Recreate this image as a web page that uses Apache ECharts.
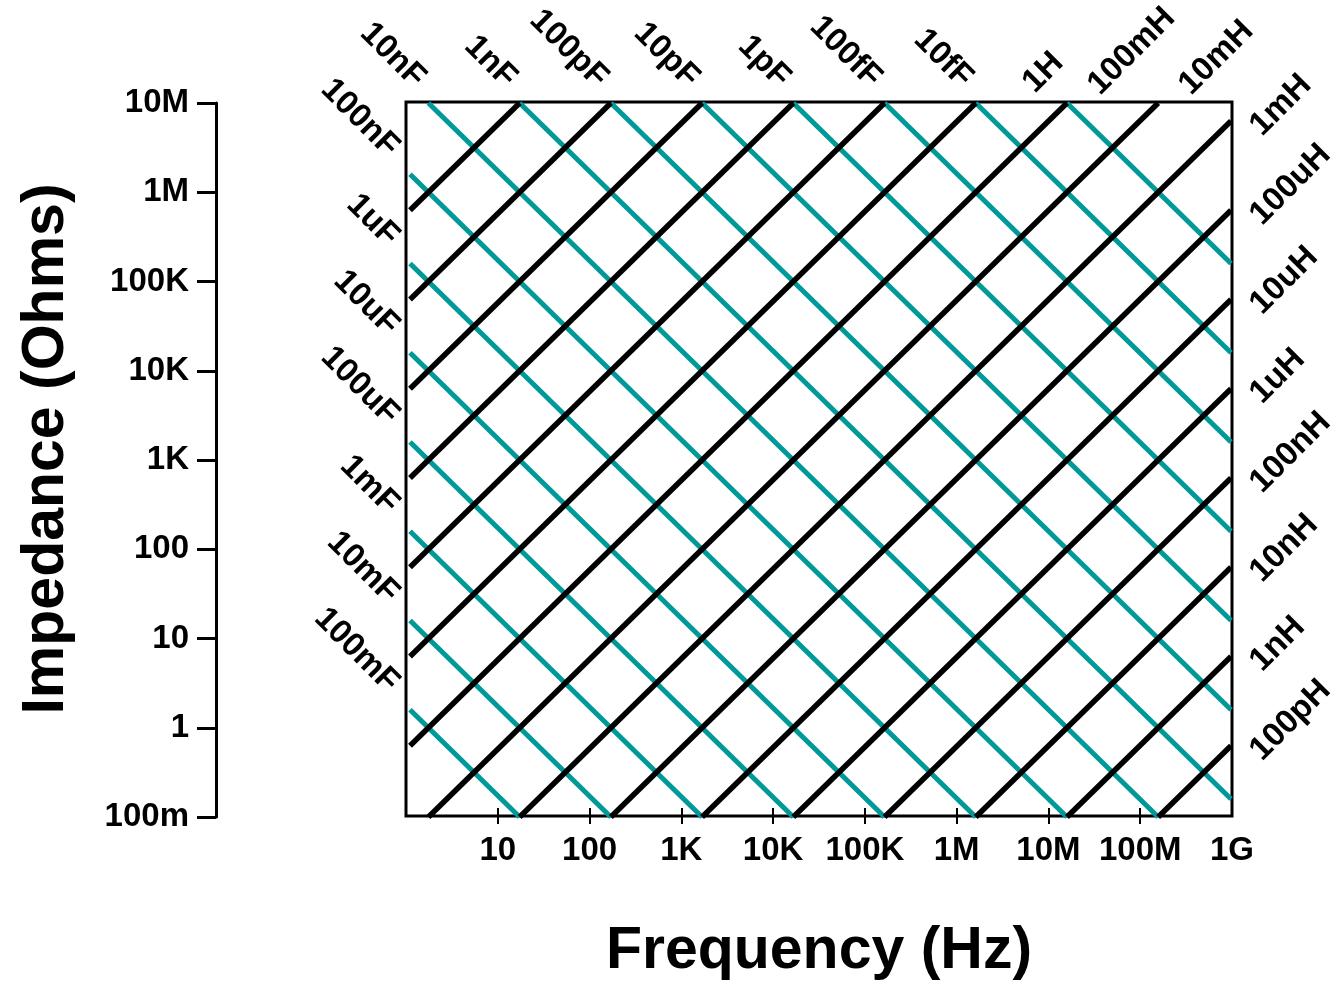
<!DOCTYPE html>
<html>
<head>
<meta charset="utf-8">
<title>Impedance vs frequency</title>
<script src="https://cdn.jsdelivr.net/npm/echarts@6/dist/echarts.min.js"></script>
<style>
  html, body { margin: 0; padding: 0; background: #fff; }
  #chart { width: 1336px; height: 986px; }
</style>
</head>
<body>
<div id="chart"></div>
<script>
  // component values (henry / farad) and the text printed beside each line ('' = unlabelled)
  var inductances = [1e-10, 1e-9, 1e-8, 1e-7, 1e-6, 1e-5, 1e-4, 1e-3, 1e-2, 1e-1, 1, 10, 100, 1e3, 1e4, 1e5]
  var inductanceLabels = ['100pH', '1nH', '10nH', '100nH', '1uH', '10uH', '100uH', '1mH', '10mH', '100mH', '1H', '', '', '', '', '']
  var capacitances = [1e-15, 1e-14, 1e-13, 1e-12, 1e-11, 1e-10, 1e-9, 1e-8, 1e-7, 1e-6, 1e-5, 1e-4, 1e-3, 1e-2, 1e-1]
  var capacitanceLabels = ['', '10fF', '100fF', '1pF', '10pF', '100pF', '1nF', '10nF', '100nF', '1uF', '10uF', '100uF', '1mF', '10mF', '100mF']

  // axis ranges and one tick label per decade
  var freqMin = 1
  var freqMax = 1e9
  var zMin = 0.1
  var zMax = 1e7
  var freqTickLabels = ['', '10', '100', '1K', '10K', '100K', '1M', '10M', '100M', '1G']
  var freqOuterTicks = [10, 100, 1e3, 1e4, 1e5, 1e6, 1e7, 1e8]
  var zTickLabels = ['100m', '1', '10', '100', '1K', '10K', '100K', '1M', '10M']

  var TWO_PI = 2 * Math.PI
  var FONT = '"Liberation Sans", Arial, Helvetica, sans-serif'
  var TEAL = '#009999'

  function decade (v) {
    return Math.round(Math.log10(v))
  }

  var labelFont = { fontSize: 33, fontWeight: 'bold', color: '#000', fontFamily: FONT }
  // label anchor relative to the line end it belongs to
  var capLabelOffset = { left: [-16, -22], top: [-8, -20] }
  var indLabelOffset = { right: [25, 10], top: [27, -13] }
  // the 1H label sits a little further right than the others
  var labelNudge = { '1H': [26, -2] }

  function labelPos (base, text) {
    var n = labelNudge[text] || [0, 0]
    return [base[0] + n[0], base[1] + n[1]]
  }

  function lineSeries (color, width, data, z) {
    return {
      type: 'line',
      xAxisIndex: 2,
      yAxisIndex: 1,
      data: data,
      symbol: 'circle',
      symbolSize: 1,
      showSymbol: true,
      clip: false,
      silent: true,
      z: z,
      itemStyle: { color: 'transparent' },
      lineStyle: { color: color, width: width, cap: 'butt' },
      label: { show: false },
      emphasis: { disabled: true }
    }
  }

  var series = []

  // capacitors: Z = 1 / (2 pi f C), cut at the plot rectangle
  capacitances.forEach(function (C, i) {
    var f0 = Math.max(freqMin, 1 / (TWO_PI * zMax * C))
    var f1 = Math.min(freqMax, 1 / (TWO_PI * zMin * C))
    if (f0 >= f1) return
    var start = { value: [f0, 1 / (TWO_PI * f0 * C)] }
    var text = capacitanceLabels[i]
    if (text) {
      start.label = Object.assign({
        show: true,
        formatter: text,
        rotate: -45,
        align: 'right',
        verticalAlign: 'middle',
        position: labelPos(f0 > freqMin ? capLabelOffset.top : capLabelOffset.left, text)
      }, labelFont)
    }
    series.push(lineSeries(TEAL, 5, [start, { value: [f1, 1 / (TWO_PI * f1 * C)] }], 2))
  })

  // inductors: Z = 2 pi f L
  inductances.forEach(function (L, i) {
    var f0 = Math.max(freqMin, zMin / (TWO_PI * L))
    var f1 = Math.min(freqMax, zMax / (TWO_PI * L))
    if (f0 >= f1) return
    var end = { value: [f1, TWO_PI * f1 * L] }
    var text = inductanceLabels[i]
    if (text) {
      end.label = Object.assign({
        show: true,
        formatter: text,
        rotate: 45,
        align: 'left',
        verticalAlign: 'middle',
        position: labelPos(f1 < freqMax ? indLabelOffset.top : indLabelOffset.right, text)
      }, labelFont)
    }
    series.push(lineSeries('#000', 5.5, [{ value: [f0, TWO_PI * f0 * L] }, end], 3))
  })

  var chart = echarts.init(document.getElementById('chart'))
  var option = {
    animation: false,
    backgroundColor: '#fff',
    textStyle: { fontFamily: FONT },
    grid: [
      // the framed box with the frequency axis
      { left: 406, top: 102, width: 826, height: 715, show: true, borderColor: '#000', borderWidth: 3, backgroundColor: 'transparent' },
      // the lines and the impedance axis
      { left: 410, top: 103, width: 821, height: 714 }
    ],
    xAxis: [
      {
        gridIndex: 0,
        type: 'log',
        min: freqMin,
        max: freqMax,
        splitNumber: 9,
        position: 'bottom',
        name: 'Frequency (Hz)',
        nameLocation: 'middle',
        nameGap: 106,
        nameTextStyle: { fontSize: 59, fontWeight: 'bold', color: '#000', fontFamily: FONT },
        axisLine: { show: false },
        axisTick: { show: true, inside: false, length: 8, customValues: freqOuterTicks, lineStyle: { color: '#000', width: 2 } },
        axisLabel: {
          margin: 18,
          fontSize: 33,
          fontWeight: 'bold',
          color: '#000',
          fontFamily: FONT,
          formatter: function (v) { return freqTickLabels[decade(v)] || '' }
        },
        splitLine: { show: false },
        minorTick: { show: false }
      },
      {
        // second copy only for the inward half of the ticks
        gridIndex: 0,
        type: 'log',
        min: freqMin,
        max: freqMax,
        splitNumber: 9,
        position: 'bottom',
        axisLine: { show: false },
        axisTick: { show: true, inside: true, length: 8, lineStyle: { color: '#000', width: 2 } },
        axisLabel: { show: false },
        splitLine: { show: false }
      },
      {
        gridIndex: 1,
        type: 'log',
        min: freqMin,
        max: freqMax,
        show: false
      }
    ],
    yAxis: [
      {
        gridIndex: 0,
        type: 'log',
        min: zMin,
        max: zMax,
        show: false
      },
      {
        gridIndex: 1,
        type: 'log',
        min: zMin,
        max: zMax,
        splitNumber: 8,
        position: 'left',
        offset: 194,
        name: 'Impedance (Ohms)',
        nameLocation: 'middle',
        nameGap: 140,
        nameTextStyle: { fontSize: 59, fontWeight: 'bold', color: '#000', fontFamily: FONT, padding: [0, 0, 0, 22] },
        axisLine: { show: true, lineStyle: { color: '#000', width: 3 } },
        axisTick: { show: true, inside: false, length: 19, lineStyle: { color: '#000', width: 3 } },
        axisLabel: {
          margin: 27,
          fontSize: 33,
          fontWeight: 'bold',
          color: '#000',
          fontFamily: FONT,
          formatter: function (v) { return zTickLabels[decade(v) + 1] || '' }
        },
        splitLine: { show: false },
        minorTick: { show: false }
      }
    ],
    series: series
  }
  chart.setOption(option)
  window.addEventListener('resize', chart.resize)
</script>
</body>
</html>
